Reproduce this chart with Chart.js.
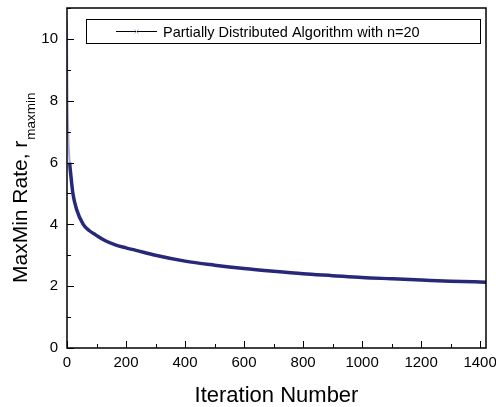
<!DOCTYPE html>
<html>
<head>
<meta charset="utf-8">
<script src="https://cdn.jsdelivr.net/npm/chart.js@4"></script>
<style>
  html, body { margin: 0; padding: 0; background: #fff; }
  #wrap { width: 496px; height: 407px; }
</style>
</head>
<body>
<div id="wrap"><canvas id="graph"></canvas></div>
<script>
const iterations = [0, 1, 2, 4, 6, 9, 14, 20, 32, 55, 75, 97, 130, 166, 200, 234, 300, 400, 500, 600, 700, 800, 900, 1000, 1100, 1200, 1300, 1420];
const rates = [10.6, 9.0, 8.0, 7.0, 6.5, 6.0, 5.5, 5.0, 4.5, 4.0, 3.8, 3.66, 3.47, 3.33, 3.24, 3.16, 3.0, 2.81, 2.68, 2.57, 2.48, 2.4, 2.34, 2.28, 2.24, 2.2, 2.16, 2.13];

const xTicks = [0, 200, 400, 600, 800, 1000, 1200, 1400];
const yTicks = [0, 2, 4, 6, 8, 10];

const seriesLabel = 'Partially Distributed Algorithm with n=20';
const xTitle = 'Iteration Number';
const yTitle = 'MaxMin Rate, r';
const yTitleSub = 'maxmin';

const font = '"Liberation Sans", Arial, sans-serif';
const navy = '#28287a';
const faint = '#a8a8d8';

Chart.defaults.font.family = font;
Chart.defaults.color = '#000';

// frame, inward ticks, legend and titles drawn by hand
const decorations = {
  id: 'decorations',
  afterDraw(chart) {
    const { ctx, chartArea: a, scales: { x, y } } = chart;
    ctx.save();

    ctx.strokeStyle = '#000';
    ctx.lineWidth = 1.5;
    ctx.strokeRect(a.left, a.top, a.right - a.left, a.bottom - a.top);

    ctx.lineWidth = 1;
    ctx.beginPath();
    for (let v = 0; v <= 1400; v += 100) {
      const px = Math.round(x.getPixelForValue(v)) + 0.5;
      const len = v % 200 === 0 ? 7 : 4;
      ctx.moveTo(px, a.bottom);
      ctx.lineTo(px, a.bottom - len);
    }
    for (let v = 0; v <= 11; v += 1) {
      const py = Math.round(y.getPixelForValue(v)) + 0.5;
      const len = v % 2 === 0 ? 7 : 4;
      ctx.moveTo(a.left, py);
      ctx.lineTo(a.left + len, py);
    }
    ctx.stroke();

    // legend
    ctx.lineWidth = 1;
    ctx.strokeStyle = '#000';
    ctx.strokeRect(86.5, 19.5, 394, 24);
    ctx.beginPath();
    ctx.moveTo(116, 31.5);
    ctx.lineTo(157, 31.5);
    ctx.stroke();
    ctx.strokeStyle = faint;
    ctx.beginPath();
    ctx.moveTo(134.5, 29.5); ctx.lineTo(138.5, 33.5);
    ctx.moveTo(138.5, 29.5); ctx.lineTo(134.5, 33.5);
    ctx.stroke();
    ctx.fillStyle = '#000';
    ctx.font = `14.5px ${font}`;
    ctx.textBaseline = 'alphabetic';
    ctx.textAlign = 'left';
    ctx.fillText(seriesLabel, 163, 37);

    // x title
    ctx.font = `22px ${font}`;
    ctx.textAlign = 'center';
    ctx.fillText(xTitle, (a.left + a.right) / 2, 402);

    // y title with subscript
    ctx.translate(27, 283);
    ctx.rotate(-Math.PI / 2);
    ctx.textAlign = 'left';
    ctx.font = `21px ${font}`;
    ctx.fillText(yTitle, 0, 0);
    const w = ctx.measureText(yTitle).width;
    ctx.font = `13.5px ${font}`;
    ctx.fillText(yTitleSub, w + 1, 8);

    ctx.restore();
  }
};

new Chart(document.getElementById('graph'), {
  type: 'line',
  data: {
    datasets: [{
      label: seriesLabel,
      data: iterations.map((it, i) => ({ x: it, y: rates[i] })),
      borderColor: navy,
      borderWidth: 3.5,
      pointRadius: 0,
      cubicInterpolationMode: 'monotone',
      segment: {
        borderColor: (c) => c.p0.parsed.y > 6.2 ? faint : navy,
        borderWidth: (c) => c.p0.parsed.y > 6.2 ? 2 : 3.5,
      },
    }]
  },
  options: {
    responsive: true,
    maintainAspectRatio: false,
    animation: false,
    layout: { padding: { top: 8, right: 10, left: 0, bottom: 0 } },
    plugins: {
      legend: { display: false },
      tooltip: { enabled: false },
    },
    scales: {
      x: {
        type: 'linear',
        min: 0,
        max: 1420,
        grid: { display: false, drawTicks: false },
        border: { display: false },
        afterBuildTicks: (scale) => { scale.ticks = xTicks.map((v) => ({ value: v })); },
        ticks: { font: { size: 15 }, padding: 6, maxRotation: 0, autoSkip: false, callback: (v) => String(v) },
        afterFit: (scale) => {
          scale.height = 59;
          scale.paddingLeft = 0;
          scale.paddingRight = 0;
        },
      },
      y: {
        min: 0,
        max: 11,
        grid: { display: false, drawTicks: false },
        border: { display: false },
        afterBuildTicks: (scale) => { scale.ticks = yTicks.map((v) => ({ value: v })); },
        ticks: { font: { size: 15 }, padding: 9, callback: (v) => String(v) },
        afterFit: (scale) => {
          scale.width = 67;
          scale.paddingTop = 0;
          scale.paddingBottom = 0;
        },
      },
    },
  },
  plugins: [decorations],
});
</script>
</body>
</html>
